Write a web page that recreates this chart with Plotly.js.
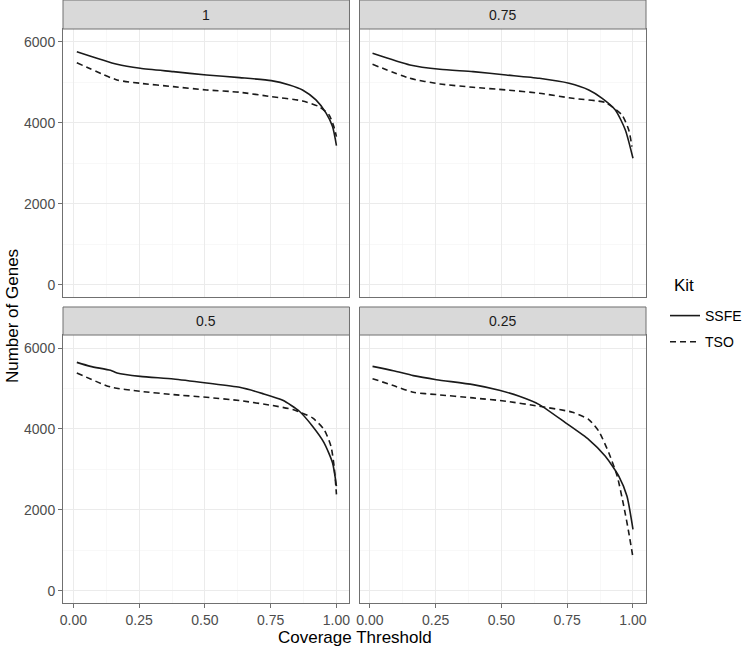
<!DOCTYPE html>
<html>
<head>
<meta charset="utf-8">
<script src="https://cdn.plot.ly/plotly-3.0.1.min.js"></script>
<style>
  body { margin: 0; background: #fff; }
  #myDiv { width: 747px; height: 648px; }
</style>
</head>
<body>
<div id="myDiv"></div>
<script>
// ------------------------- data -------------------------
var panels = ['1', '0.75', '0.5', '0.25'];

// panel "1"
var ssfeX1 = [0.013, 0.166, 0.254, 0.38, 0.506, 0.632, 0.752, 0.821, 0.871, 0.922, 0.96, 0.985, 1.0];
var ssfeY1 = [5760, 5449, 5350, 5267, 5185, 5119, 5045, 4938, 4815, 4568, 4247, 3909, 3440];
var tsoX1  = [0.013, 0.166, 0.254, 0.38, 0.506, 0.632, 0.752, 0.871, 0.934, 0.972, 0.99, 1.0];
var tsoY1  = [5489, 5062, 4980, 4897, 4815, 4758, 4650, 4543, 4402, 4197, 3909, 3662];

// panel "0.75"
var ssfeX2 = [0.01, 0.152, 0.266, 0.392, 0.518, 0.644, 0.757, 0.832, 0.883, 0.933, 0.971, 1.0];
var ssfeY2 = [5720, 5432, 5325, 5267, 5185, 5103, 4980, 4815, 4609, 4321, 3827, 3128];
var tsoX2  = [0.01, 0.152, 0.266, 0.392, 0.518, 0.644, 0.77, 0.895, 0.958, 0.984, 0.996];
var tsoY2  = [5449, 5103, 4963, 4881, 4815, 4733, 4609, 4501, 4197, 3827, 3415];

// panel "0.5"
var ssfeX3 = [0.013, 0.065, 0.141, 0.166, 0.254, 0.38, 0.506, 0.632, 0.72, 0.796, 0.859, 0.909, 0.953, 0.985, 1.0];
var ssfeY3 = [5645, 5546, 5448, 5384, 5300, 5236, 5137, 5029, 4873, 4708, 4437, 4067, 3658, 3165, 2588];
var tsoX3  = [0.013, 0.141, 0.254, 0.38, 0.506, 0.632, 0.758, 0.834, 0.909, 0.953, 0.979, 0.991, 1.0];
var tsoY3  = [5384, 5038, 4930, 4849, 4782, 4701, 4578, 4479, 4274, 3986, 3574, 3081, 2384];

// panel "0.25"
var ssfeX4 = [0.01, 0.089, 0.165, 0.253, 0.392, 0.492, 0.568, 0.644, 0.744, 0.832, 0.895, 0.946, 0.977, 1.0];
var ssfeY4 = [5546, 5440, 5317, 5218, 5095, 4955, 4807, 4602, 4151, 3739, 3328, 2835, 2342, 1521];
var tsoX4  = [0.01, 0.089, 0.165, 0.253, 0.392, 0.518, 0.644, 0.77, 0.832, 0.87, 0.908, 0.94, 0.965, 0.984, 1.0];
var tsoY4  = [5243, 5071, 4906, 4849, 4767, 4684, 4560, 4413, 4233, 3944, 3412, 2835, 2095, 1440, 823];

var ssfeXs = [ssfeX1, ssfeX2, ssfeX3, ssfeX4];
var ssfeYs = [ssfeY1, ssfeY2, ssfeY3, ssfeY4];
var tsoXs  = [tsoX1, tsoX2, tsoX3, tsoX4];
var tsoYs  = [tsoY1, tsoY2, tsoY3, tsoY4];

// ------------------------- build traces -------------------------
var data = [];
for (var i = 0; i < 4; i++) {
  var suffix = i === 0 ? '' : String(i + 1);
  data.push({
    x: ssfeXs[i], y: ssfeYs[i], xaxis: 'x' + suffix, yaxis: 'y' + suffix,
    type: 'scatter', mode: 'lines', line: {color: '#1a1a1a', width: 1.6, shape: 'spline', smoothing: 0.6},
    name: 'SSFE', legendgroup: 'SSFE', showlegend: i === 0, hoverinfo: 'skip'
  });
  data.push({
    x: tsoXs[i], y: tsoYs[i], xaxis: 'x' + suffix, yaxis: 'y' + suffix,
    type: 'scatter', mode: 'lines', line: {color: '#1a1a1a', width: 1.6, dash: '6px,4px', shape: 'spline', smoothing: 0.6},
    name: 'TSO', legendgroup: 'TSO', showlegend: i === 0, hoverinfo: 'skip'
  });
}

// ------------------------- layout -------------------------
var xDom = [[0, 0.4914], [0.5086, 1], [0, 0.4914], [0.5086, 1]];
var yDom = [[0.5075, 0.9519], [0.5075, 0.9519], [0, 0.4444], [0, 0.4444]];
var stripDom = [[0.9519, 1], [0.9519, 1], [0.4444, 0.4909], [0.4444, 0.4909]];

var tickFont = {family: 'Liberation Sans, Arial, sans-serif', size: 14, color: '#4d4d4d'};
var frame = '#707070';

var layout = {
  width: 747, height: 648,
  margin: {l: 63, r: 100, t: 0, b: 45},
  paper_bgcolor: '#ffffff', plot_bgcolor: '#ffffff',
  font: {family: 'Liberation Sans, Arial, sans-serif', color: '#000'},
  showlegend: true,
  legend: {
    x: 1.032, y: 0.5025, xanchor: 'left', yanchor: 'top',
    font: {size: 14, color: '#000'},
    tracegroupgap: 5, itemwidth: 30
  },
  shapes: [], annotations: []
};

for (var j = 0; j < 4; j++) {
  var s = j === 0 ? '' : String(j + 1);
  var isBottom = j >= 2, isLeft = (j % 2) === 0;
  layout['xaxis' + s] = {
    domain: xDom[j], anchor: 'y' + s, range: [-0.0395, 1.0495],
    tickvals: [0, 0.25, 0.5, 0.75, 1], ticktext: ['0.00', '0.25', '0.50', '0.75', '1.00'],
    showticklabels: isBottom, ticks: isBottom ? 'outside' : '', ticklen: 4, tickcolor: frame,
    tickfont: tickFont, showgrid: true, gridcolor: '#ebebeb', gridwidth: 1,
    minor: {dtick: 0.125, tick0: 0, showgrid: true, gridcolor: '#f3f3f3', gridwidth: 0.6},
    showline: true, mirror: true, linecolor: frame, linewidth: 1, zeroline: false, fixedrange: true
  };
  layout['yaxis' + s] = {
    domain: yDom[j], anchor: 'x' + s, range: [-301, 6321],
    tickvals: [0, 2000, 4000, 6000],
    showticklabels: isLeft, ticks: isLeft ? 'outside' : '', ticklen: 4, tickcolor: frame,
    tickfont: tickFont, showgrid: true, gridcolor: '#ebebeb', gridwidth: 1,
    minor: {dtick: 1000, tick0: 0, showgrid: true, gridcolor: '#f3f3f3', gridwidth: 0.6},
    showline: true, mirror: true, linecolor: frame, linewidth: 1, zeroline: false, fixedrange: true
  };
  // facet strip
  layout.shapes.push({
    type: 'rect', xref: 'paper', yref: 'paper',
    x0: xDom[j][0], x1: xDom[j][1], y0: stripDom[j][0], y1: stripDom[j][1],
    fillcolor: '#d9d9d9', line: {color: frame, width: 1}, layer: 'above'
  });
  layout.annotations.push({
    text: panels[j], xref: 'paper', yref: 'paper', showarrow: false,
    x: (xDom[j][0] + xDom[j][1]) / 2, y: (stripDom[j][0] + stripDom[j][1]) / 2,
    xanchor: 'center', yanchor: 'middle', font: {size: 14, color: '#1a1a1a'}
  });
}

// legend title (kept apart to get ggplot's spacing)
layout.annotations.push({
  text: 'Kit', xref: 'paper', yref: 'paper', showarrow: false,
  x: 1.0445, y: 0.527, xanchor: 'left', yanchor: 'middle', font: {size: 17, color: '#000'}
});

// axis titles
layout.annotations.push({
  text: 'Coverage Threshold', xref: 'paper', yref: 'paper', showarrow: false,
  x: 0.5, y: -0.058, xanchor: 'center', yanchor: 'middle', font: {size: 17, color: '#000'}
});
layout.annotations.push({
  text: 'Number of Genes', xref: 'paper', yref: 'paper', showarrow: false, textangle: -90,
  x: -0.0856, y: 0.476, xanchor: 'center', yanchor: 'middle', font: {size: 17, color: '#000'}
});

Plotly.newPlot('myDiv', data, layout, {displayModeBar: false, staticPlot: true});
</script>
</body>
</html>
